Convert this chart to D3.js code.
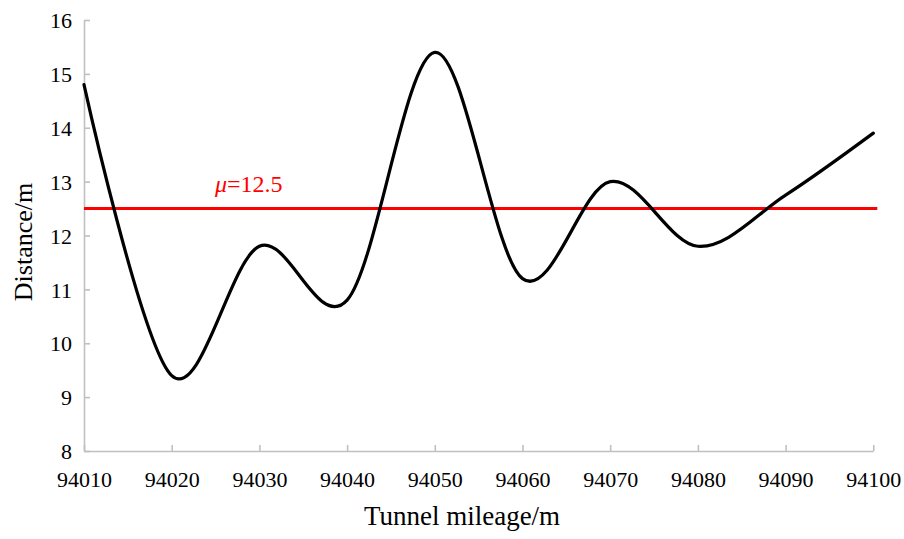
<!DOCTYPE html>
<html><head><meta charset="utf-8">
<script src="https://cdn.jsdelivr.net/npm/d3@7"></script>
<style>body{margin:0;background:#fff}svg{display:block}
text{font-family:"Liberation Serif","Times New Roman","DejaVu Serif",serif;}</style>
</head><body><svg id="c" width="904" height="539"></svg>
<script>
const mileage = [94010, 94020, 94030, 94040, 94050, 94060, 94070, 94080, 94090, 94100];
const distance = [14.8, 9.4, 11.8, 10.8, 15.4, 11.2, 13.0, 11.8, 12.75, 13.9];
const meanValue = 12.5;
const xTicks = [94010, 94020, 94030, 94040, 94050, 94060, 94070, 94080, 94090, 94100];
const yTicks = [8, 9, 10, 11, 12, 13, 14, 15, 16];

const svg = d3.select("#c");
const x = d3.scaleLinear().domain([94010, 94100]).range([84, 873.3]);
const y = d3.scaleLinear().domain([8, 16]).range([451, 20]);
const font = "Liberation Serif";
const axisColor = "#c0c0c0";

// axes
const xa = svg.append("g").attr("transform", `translate(0,${y(8)})`)
  .call(d3.axisBottom(x).tickValues(xTicks).tickFormat(d3.format("d")).tickSizeInner(-6).tickSizeOuter(0).tickPadding(20));
const ya = svg.append("g").attr("transform", `translate(${x(94010)},0)`)
  .call(d3.axisLeft(y).tickValues(yTicks).tickFormat(d3.format("d")).tickSizeInner(-6).tickSizeOuter(0).tickPadding(12));
[xa, ya].forEach(g => {
  g.attr("font-family", font).attr("font-size", 22);
  g.select(".domain").attr("stroke", axisColor).attr("stroke-width", 1.6);
  g.selectAll(".tick line").attr("stroke", axisColor).attr("stroke-width", 1.6);
  g.selectAll(".tick text").attr("fill", "#000");
});
ya.selectAll(".tick text").attr("dy", "0.35em");
xa.selectAll(".tick text").attr("dy", "0.71em");

// mean line
svg.append("line")
  .attr("x1", x(94010)).attr("x2", x(94100) + 4)
  .attr("y1", y(meanValue)).attr("y2", y(meanValue))
  .attr("stroke", "#ff0000").attr("stroke-width", 3);
const lbl = svg.append("text").attr("x", 215).attr("y", 192)
  .attr("fill", "#ff0000").attr("font-family", font).attr("font-size", 24);
lbl.append("tspan").attr("font-style", "italic").text("μ");
lbl.append("tspan").text("=" + meanValue);

// data line
const line = d3.line().x((d, i) => x(mileage[i])).y(d => y(d)).curve(d3.curveCardinal.tension(0));
svg.append("path").datum(distance).attr("d", line)
  .attr("fill", "none").attr("stroke", "#000").attr("stroke-width", 3.2)
  .attr("stroke-linecap", "round").attr("stroke-linejoin", "round");

// axis titles
svg.append("text").attr("x", 462).attr("y", 525).attr("text-anchor", "middle")
  .attr("font-family", font).attr("font-size", 27).text("Tunnel mileage/m");
svg.append("text").attr("transform", "translate(32,242) rotate(-90)").attr("text-anchor", "middle")
  .attr("font-family", font).attr("font-size", 26).text("Distance/m");
</script></body></html>
